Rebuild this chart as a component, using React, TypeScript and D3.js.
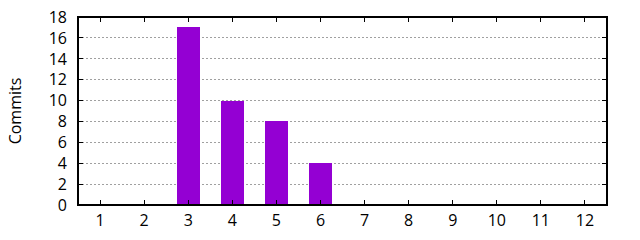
import React from "react";
import * as d3 from "d3";

const categories = ["1", "2", "3", "4", "5", "6", "7", "8", "9", "10", "11", "12"];
const commits = [0, 0, 17, 10, 8, 4, 0, 0, 0, 0, 0, 0];
const yTicks = [0, 2, 4, 6, 8, 10, 12, 14, 16, 18];
const yLabel = "Commits";

export default function App() {
  const W = 640, H = 240;
  const m = { left: 78, right: 33, top: 17, bottom: 35 };
  const x = d3.scaleLinear().domain([0.5, 12.5]).range([m.left, W - m.right]);
  const y = d3.scaleLinear().domain([0, 18]).range([H - m.bottom, m.top]);
  const bw = 23;
  const font = "'Open Sans', 'Noto Sans', sans-serif";
  return (
    <svg width={W} height={H} style={{ position: "absolute", left: 0, top: 0 }}>
      <rect width={W} height={H} fill="#fff" />
      {yTicks.filter(t => t > 0 && t < 18).map(t => (
        <line key={"g" + t} x1={m.left} x2={W - m.right} y1={y(t)} y2={y(t)}
          stroke="#a0a0a0" strokeWidth={1} strokeDasharray="2,2" shapeRendering="crispEdges" />
      ))}
      {commits.map((v, i) => v > 0 ? (
        <rect key={"b" + i} x={x(i + 1) - bw / 2} y={y(v)} width={bw} height={y(0) - y(v)}
          fill="#9400d3" shapeRendering="crispEdges" />
      ) : null)}
      {yTicks.map(t => (
        <g key={"y" + t}>
          <line x1={m.left} x2={m.left + 5} y1={y(t)} y2={y(t)} stroke="#000" shapeRendering="crispEdges" />
          <line x1={W - m.right} x2={W - m.right - 5} y1={y(t)} y2={y(t)} stroke="#000" shapeRendering="crispEdges" />
          <text x={m.left - 11} y={y(t)} dy="0.36em" textAnchor="end" fontSize={16} fontFamily={font} fill="#000">{t}</text>
        </g>
      ))}
      {categories.map((c, i) => (
        <g key={"x" + c}>
          <line x1={x(i + 1)} x2={x(i + 1)} y1={y(0)} y2={y(0) - 5} stroke="#000" shapeRendering="crispEdges" />
          <line x1={x(i + 1)} x2={x(i + 1)} y1={m.top} y2={m.top + 5} stroke="#000" shapeRendering="crispEdges" />
          <text x={x(i + 1)} y={y(0) + 21} textAnchor="middle" fontSize={16} fontFamily={font} fill="#000">{c}</text>
        </g>
      ))}
      <rect x={m.left} y={m.top} width={W - m.right - m.left} height={y(0) - m.top}
        fill="none" stroke="#000" strokeWidth={1.5} shapeRendering="crispEdges" />
      <text transform={`translate(21,${(m.top + y(0)) / 2}) rotate(-90)`} textAnchor="middle"
        fontSize={16} fontFamily={font} fill="#000">{yLabel}</text>
    </svg>
  );
}
